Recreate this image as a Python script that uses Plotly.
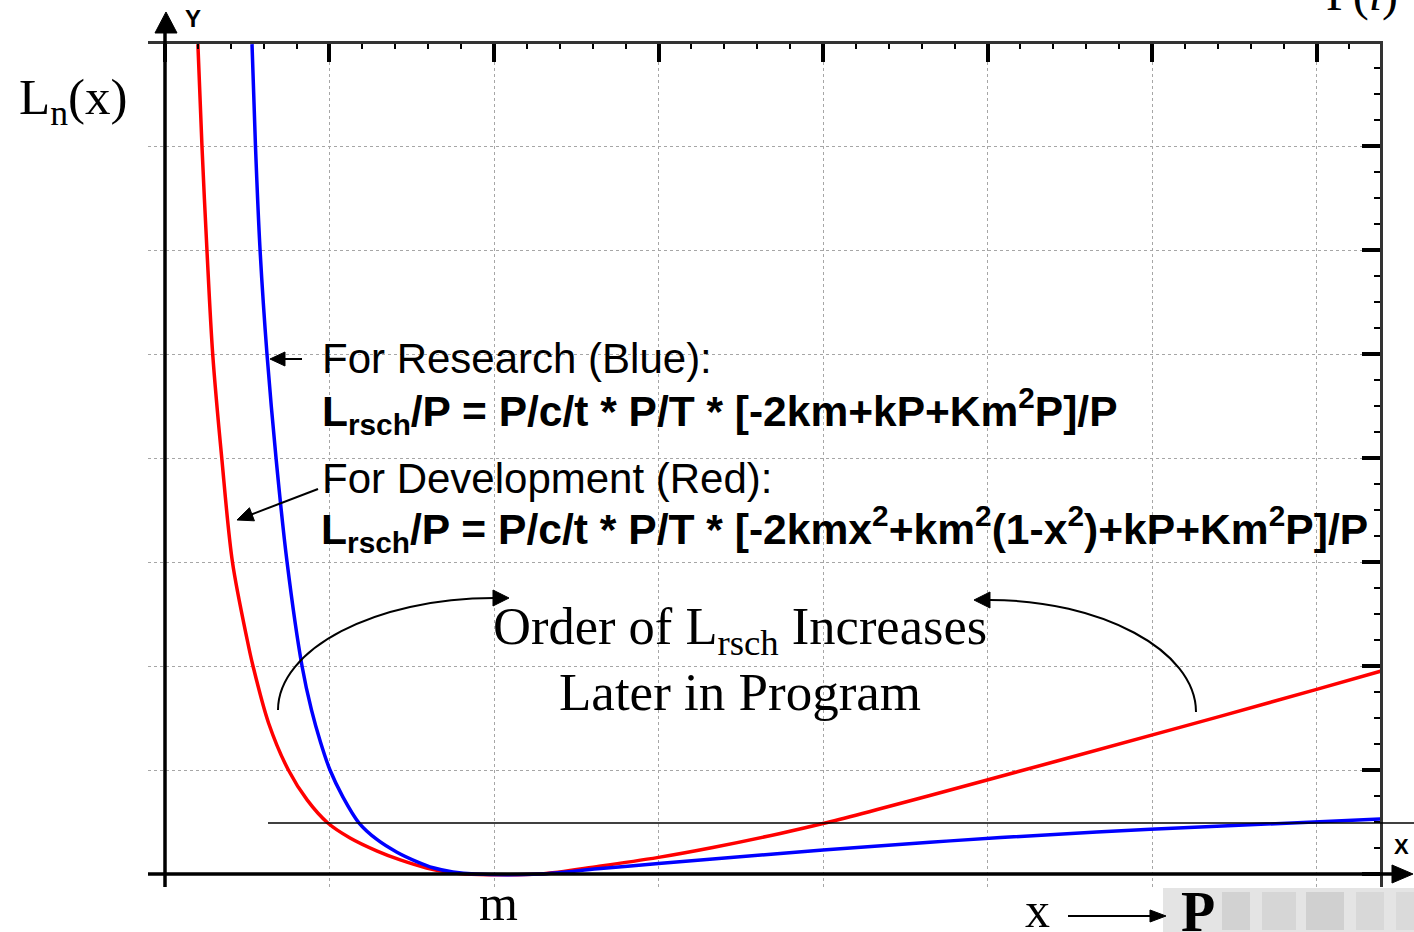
import plotly.graph_objects as go

# ---- data (grid units) ----
red_x = [0.20, 0.225, 0.255, 0.29, 0.345, 0.41, 0.50, 0.535, 0.63, 0.75, 0.865, 0.99,
         1.125, 1.29, 1.43, 1.59, 1.715, 1.82, 2.28, 2.64, 3.00, 3.33, 3.74, 4.00,
         4.65, 6.17, 6.99, 7.39]
red_y = [7.98, 6.99, 6.00, 5.00, 4.00, 3.00, 2.25, 2.00, 1.45, 1.00, 0.71, 0.49,
         0.346, 0.22, 0.135, 0.058, 0.019, 0.0, 0.0, 0.075, 0.16, 0.255, 0.39, 0.485,
         0.755, 1.41, 1.77, 1.95]

blue_x = [0.529, 0.55, 0.578, 0.62, 0.675, 0.742, 0.833, 0.89, 0.945, 1.003, 1.082,
          1.18, 1.29, 1.41, 1.53, 1.63, 1.75, 1.885, 2.28, 2.63, 3.00, 3.33, 4.00, 4.65,
          5.08, 5.99, 7.39]
blue_y = [7.98, 7.00, 6.00, 5.00, 4.00, 3.00, 2.00, 1.58, 1.27, 1.00, 0.74,
          0.49, 0.33, 0.21, 0.12, 0.06, 0.02, 0.0, 0.0, 0.05, 0.10, 0.145, 0.23, 0.305,
          0.35, 0.43, 0.53]

ref_level = 0.49          # thin horizontal reference line
x_range = [-0.1033, 7.386]
y_range = [-0.125, 7.981]

W, H = 1414, 932
ML, MR, MT, MB = 148, 34, 44, 45
PW, PH = W - ML - MR, H - MT - MB


def X(px):
    return (px - ML) / PW


def Y(py):
    return (H - MB - py) / PH


fig = go.Figure()
fig.add_trace(go.Scatter(x=red_x, y=red_y, mode="lines",
                         line=dict(color="#ff0000", width=3.5, shape="spline", smoothing=0.9),
                         hoverinfo="skip", showlegend=False))
fig.add_trace(go.Scatter(x=blue_x, y=blue_y, mode="lines",
                         line=dict(color="#0000ff", width=3.5, shape="spline", smoothing=0.9),
                         hoverinfo="skip", showlegend=False))

shapes = []


def seg(x0, y0, x1, y1, w=3.5, c="black"):
    shapes.append(dict(type="line", xref="paper", yref="paper",
                       x0=X(x0), y0=Y(y0), x1=X(x1), y1=Y(y1),
                       line=dict(color=c, width=w)))


def tri(pts, c="black"):
    p = "M " + " L ".join(f"{X(a):.5f},{Y(b):.5f}" for a, b in pts) + " Z"
    shapes.append(dict(type="path", xref="paper", yref="paper", path=p,
                       fillcolor=c, line=dict(color=c, width=1)))


def arrow_head(tipx, tipy, fromx, fromy, L=16, hw=7):
    dx, dy = tipx - fromx, tipy - fromy
    n = (dx * dx + dy * dy) ** 0.5
    ux, uy = dx / n, dy / n
    bx, by = tipx - L * ux, tipy - L * uy
    px_, py_ = -uy * hw, ux * hw
    tri([(tipx, tipy), (bx + px_, by + py_), (bx - px_, by - py_)])


def curve(p0, p1, p2, p3, w=2):
    path = (f"M {X(p0[0]):.5f},{Y(p0[1]):.5f} C {X(p1[0]):.5f},{Y(p1[1]):.5f} "
            f"{X(p2[0]):.5f},{Y(p2[1]):.5f} {X(p3[0]):.5f},{Y(p3[1]):.5f}")
    shapes.append(dict(type="path", xref="paper", yref="paper", path=path,
                       line=dict(color="black", width=w)))


# watermark patch bottom-right
shapes.append(dict(type="rect", xref="paper", yref="paper", x0=X(1163), x1=X(1414),
                   y0=Y(932), y1=Y(888), fillcolor="#e4e4e4", line=dict(width=0), layer="below"))
for a, b, col in [(1222, 1250, "#d2d2d2"), (1262, 1296, "#d6d6d6"), (1306, 1344, "#d0d0d0"),
                  (1356, 1384, "#d8d8d8"), (1396, 1414, "#dadada")]:
    shapes.append(dict(type="rect", xref="paper", yref="paper", x0=X(a), x1=X(b),
                       y0=Y(930), y1=Y(892), fillcolor=col, line=dict(width=0), layer="below"))

# main axes
seg(148, 874, 1396, 874, 3.5)
arrow_head(1413, 874, 1390, 874, L=21, hw=9)
seg(165, 887, 165, 30, 3.5)
arrow_head(166, 12, 166, 40, L=21, hw=11)

# reference line
shapes.append(dict(type="line", xref="paper", yref="y", x0=X(268), x1=X(1414),
                   y0=ref_level, y1=ref_level, line=dict(color="black", width=1.6)))

# pointer arrows
seg(302, 359, 282, 359, 2)
arrow_head(270, 359, 302, 359, L=15, hw=7)
seg(318, 489, 250, 515, 2)
arrow_head(237, 520, 318, 489, L=16, hw=7)

# arcs
curve((278, 710), (278, 649), (375, 598), (494, 598))
arrow_head(509, 598, 494, 598, L=16, hw=8)
curve((1196, 712), (1196, 650), (1100, 600), (990, 600))
arrow_head(974, 600, 990, 600, L=16, hw=8)

# x -> P arrow
seg(1068, 916, 1152, 916, 2)
arrow_head(1166, 916, 1150, 916, L=16, hw=6)

ann = []


def txt(s, px, py, size, fam="Liberation Sans", xa="center", ya="middle", color="black"):
    ann.append(dict(text=s, x=X(px), y=Y(py), xref="paper", yref="paper", showarrow=False,
                    xanchor=xa, yanchor=ya, font=dict(family=fam, size=size, color=color)))


serif = "Liberation Serif"
txt("L<sub>n</sub>(x)", 17, 101, 51, serif, xa="left")
txt("P(<i>i</i>)", 1362, -6, 48, serif)
txt("<b>Y</b>", 193, 19, 24)
txt("<b>X</b>", 1401, 846, 22)
txt("For Research (Blue):", 320, 358, 42, xa="left")
txt("<b>L<sub>rsch</sub>/P = P/c/t * P/T * [-2km+kP+Km<sup>2</sup>P]/P</b>", 320, 411, 42.5, xa="left")
txt("For Development (Red):", 320, 478, 42, xa="left")
txt("<b>L<sub>rsch</sub>/P = P/c/t * P/T * [-2kmx<sup>2</sup>+km<sup>2</sup>(1-x<sup>2</sup>)+kP+Km<sup>2</sup>P]/P</b>",
    319, 529, 42.6, xa="left")
txt("Order of L<sub>rsch</sub> Increases", 740, 630, 52.5, serif)
txt("Later in Program", 740, 692, 53, serif)
txt("m", 498, 903, 50, serif)
txt("x", 1037, 910, 50, serif)
txt("<b>P</b>", 1198, 912, 56, serif)

axis_common = dict(showticklabels=False, showgrid=True, gridcolor="#a6a6a6", griddash="dot",
                   gridwidth=1.2, zeroline=False, showline=True, linecolor="#333333",
                   linewidth=2.5, ticks="inside", ticklen=18, tickwidth=3.5, tickcolor="black",
                   tick0=0, dtick=1, fixedrange=True)

fig.update_layout(
    width=W, height=H,
    margin=dict(l=ML, r=MR, t=MT, b=MB, pad=0),
    paper_bgcolor="white", plot_bgcolor="white",
    xaxis=dict(range=x_range, side="top",
               minor=dict(ticks="inside", ticklen=5, tickwidth=2, tickcolor="black",
                          dtick=0.2, tick0=0, showgrid=False),
               **axis_common),
    yaxis=dict(range=y_range, side="right",
               minor=dict(ticks="inside", ticklen=6, tickwidth=2, tickcolor="black",
                          dtick=0.25, tick0=0, showgrid=False),
               **axis_common),
    shapes=shapes, annotations=ann, showlegend=False,
)

fig.write_html("out.html", config={"displayModeBar": False},
               post_script="document.body.style.margin='0';")
